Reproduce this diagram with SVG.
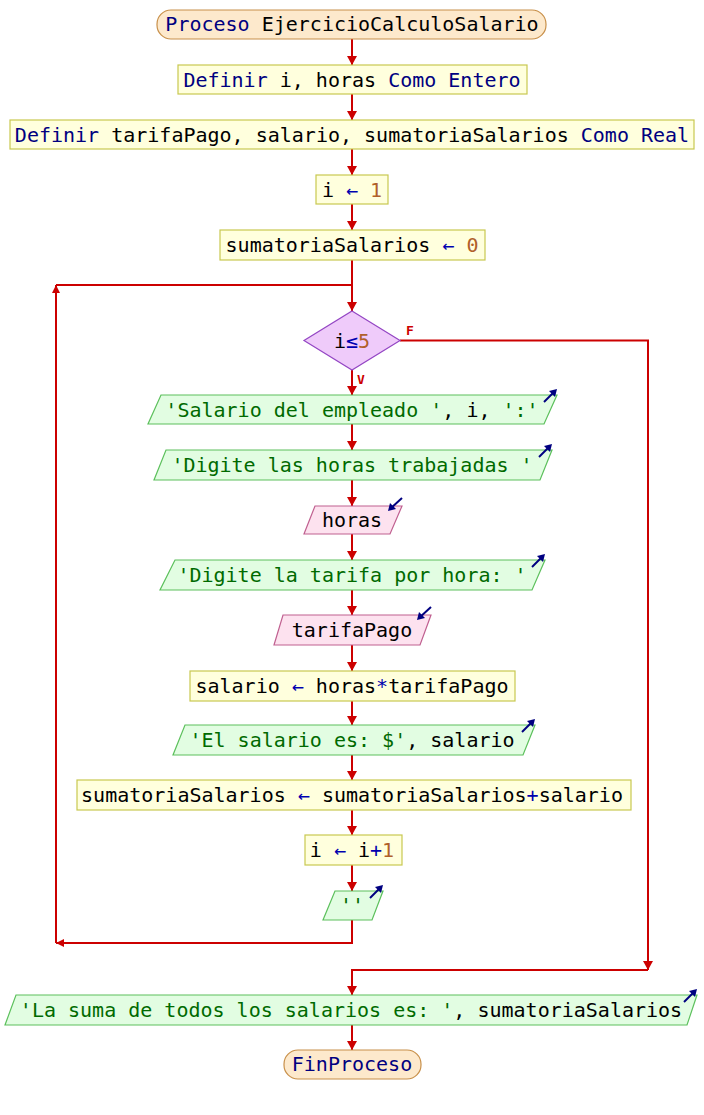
<svg xmlns="http://www.w3.org/2000/svg" width="704" height="1115" viewBox="0 0 704 1115">
  <style>
    text { font-family: "DejaVu Sans Mono", "Liberation Mono", monospace; font-size: 20px; fill: #000000; white-space: pre; text-anchor: middle; }
    .kw { fill: #000080; }
    .str { fill: #006a00; }
    .num { fill: #b0602a; }
    .op { fill: #0000b0; }
    .term { fill: #fde9cc; stroke: #c8904a; stroke-width: 1.2; }
    .proc { fill: #ffffdd; stroke: #c8c850; stroke-width: 1.2; }
    .dec { fill: #efcbfa; stroke: #9446c4; stroke-width: 1.2; }
    .out { fill: #e2fde2; stroke: #5cc05c; stroke-width: 1.2; }
    .in { fill: #fde2ef; stroke: #c06090; stroke-width: 1.2; }
    .flow { fill: none; stroke: #cc0000; stroke-width: 2; }
    .lbl { font-family: "DejaVu Sans Mono", monospace; font-size: 13px; font-weight: bold; fill: #cc0000; text-anchor: start; }
    .ico { stroke: #000080; stroke-width: 2; fill: none; }
    .icoh { fill: #000080; }
  </style>
  <defs>
    <marker id="ah" markerWidth="10" markerHeight="10" refX="9" refY="5" orient="auto" markerUnits="userSpaceOnUse">
      <path d="M0,0 L9,5 L0,10 Z" fill="#cc0000"/>
    </marker>
    <marker id="ahs" markerWidth="9" markerHeight="8" refX="8" refY="4" orient="auto" markerUnits="userSpaceOnUse">
      <path d="M0,0 L8,4 L0,8 Z" fill="#cc0000"/>
    </marker>
    <!-- small output marker: arrow pointing up-right, tip at origin -->
    <g id="icoOut">
      <path class="ico" d="M-13,13 L-2,2"/>
      <path class="icoh" d="M0,0 L-2,8 L-8,2 Z"/>
    </g>
    <!-- small input marker: arrow pointing down-left, tip at origin -->
    <g id="icoIn">
      <path class="ico" d="M14,-13 L2,-2"/>
      <path class="icoh" d="M0,0 L8,-2 L2,-8 Z"/>
    </g>
  </defs>

  <!-- connectors -->
  <g id="connectors">
    <path class="flow" d="M352,39 V65" marker-end="url(#ah)"/>
    <path class="flow" d="M352,94 V120" marker-end="url(#ah)"/>
    <path class="flow" d="M352,149 V175" marker-end="url(#ah)"/>
    <path class="flow" d="M352,204 V230" marker-end="url(#ah)"/>
    <path class="flow" d="M352,260 V311" marker-end="url(#ah)"/>
    <path class="flow" d="M400,340.5 H648 V970" marker-end="url(#ah)"/>
    <path class="flow" d="M648,970 H352 V995" marker-end="url(#ah)"/>
    <path class="flow" d="M352,370 V395" marker-end="url(#ah)"/>
    <path class="flow" d="M352,424 V450" marker-end="url(#ah)"/>
    <path class="flow" d="M352,480 V506" marker-end="url(#ah)"/>
    <path class="flow" d="M352,534 V560" marker-end="url(#ah)"/>
    <path class="flow" d="M352,590 V615" marker-end="url(#ah)"/>
    <path class="flow" d="M352,645 V671" marker-end="url(#ah)"/>
    <path class="flow" d="M352,701 V725" marker-end="url(#ah)"/>
    <path class="flow" d="M352,755 V780" marker-end="url(#ah)"/>
    <path class="flow" d="M352,810 V835" marker-end="url(#ah)"/>
    <path class="flow" d="M352,865 V891" marker-end="url(#ah)"/>
    <path class="flow" d="M352,920 V943 H56" marker-end="url(#ahs)"/>
    <path class="flow" d="M56,943 V285" marker-end="url(#ahs)"/>
    <path class="flow" d="M56,285 H352"/>
    <path class="flow" d="M352,1025 V1050" marker-end="url(#ah)"/>
    <text class="lbl" x="406" y="335">F</text>
    <text class="lbl" x="357" y="384">V</text>
  </g>

  <g id="start">
    <rect class="term" x="157" y="10" width="389" height="29" rx="14" ry="14"/>
    <text x="352" y="31"><tspan class="kw">Proceso</tspan> EjercicioCalculoSalario</text>
  </g>

  <g id="def1">
    <rect class="proc" x="178" y="65" width="349" height="29"/>
    <text x="352" y="86.5"><tspan class="kw">Definir</tspan> i, horas <tspan class="kw">Como Entero</tspan></text>
  </g>

  <g id="def2">
    <rect class="proc" x="10" y="120" width="684" height="29"/>
    <text x="352" y="141.5"><tspan class="kw">Definir</tspan> tarifaPago, salario, sumatoriaSalarios <tspan class="kw">Como Real</tspan></text>
  </g>

  <g id="asg-i">
    <rect class="proc" x="316" y="175" width="72" height="29"/>
    <text x="352" y="196.5">i <tspan class="op">←</tspan> <tspan class="num">1</tspan></text>
  </g>

  <g id="asg-suma0">
    <rect class="proc" x="220" y="230" width="265" height="30"/>
    <text x="352" y="252">sumatoriaSalarios <tspan class="op">←</tspan> <tspan class="num">0</tspan></text>
  </g>

  <g id="cond">
    <polygon class="dec" points="352,311 400,340.5 352,370 304,340.5"/>
    <text x="352" y="348">i<tspan class="op">≤</tspan><tspan class="num">5</tspan></text>
  </g>

  <g id="out-empleado">
    <polygon class="out" points="161,395 557,395 544,424 148,424"/>
    <text x="352" y="416.5"><tspan class="str">'Salario del empleado '</tspan>, i, <tspan class="str">':'</tspan></text>
    <use href="#icoOut" x="557" y="389"/>
  </g>

  <g id="out-horas">
    <polygon class="out" points="166,450 552,450 540,480 154,480"/>
    <text x="352" y="472"><tspan class="str">'Digite las horas trabajadas '</tspan></text>
    <use href="#icoOut" x="552" y="444"/>
  </g>

  <g id="in-horas">
    <polygon class="in" points="315,506 402,506 390,534 304,534"/>
    <text x="352" y="527">horas</text>
    <use href="#icoIn" x="388" y="511"/>
  </g>

  <g id="out-tarifa">
    <polygon class="out" points="175,560 545,560 532,590 160,590"/>
    <text x="352" y="582"><tspan class="str">'Digite la tarifa por hora: '</tspan></text>
    <use href="#icoOut" x="545" y="554"/>
  </g>

  <g id="in-tarifa">
    <polygon class="in" points="283,615 431,615 420,645 274,645"/>
    <text x="352" y="637">tarifaPago</text>
    <use href="#icoIn" x="417" y="620"/>
  </g>

  <g id="asg-salario">
    <rect class="proc" x="190" y="671" width="325" height="30"/>
    <text x="352" y="693">salario <tspan class="op">←</tspan> horas<tspan class="op">*</tspan>tarifaPago</text>
  </g>

  <g id="out-salario">
    <polygon class="out" points="185,725 535,725 523,755 173,755"/>
    <text x="352" y="747"><tspan class="str">'El salario es: $'</tspan>, salario</text>
    <use href="#icoOut" x="535" y="719"/>
  </g>

  <g id="asg-suma">
    <rect class="proc" x="77" y="780" width="554" height="30"/>
    <text x="352" y="802">sumatoriaSalarios <tspan class="op">←</tspan> sumatoriaSalarios<tspan class="op">+</tspan>salario</text>
  </g>

  <g id="asg-inc">
    <rect class="proc" x="305" y="835" width="97" height="30"/>
    <text x="352" y="857">i <tspan class="op">←</tspan> i<tspan class="op">+</tspan><tspan class="num">1</tspan></text>
  </g>

  <g id="out-blank">
    <polygon class="out" points="335,891 383,891 372,920 323,920"/>
    <text x="352" y="912"><tspan class="str">''</tspan></text>
    <use href="#icoOut" x="383" y="885"/>
  </g>

  <g id="out-total">
    <polygon class="out" points="16,995 697,995 687,1025 5,1025"/>
    <text x="351" y="1017"><tspan class="str">'La suma de todos los salarios es: '</tspan>, sumatoriaSalarios</text>
    <use href="#icoOut" x="697" y="989"/>
  </g>

  <g id="end">
    <rect class="term" x="284" y="1050" width="137" height="29" rx="14" ry="14"/>
    <text x="352" y="1071"><tspan class="kw">FinProceso</tspan></text>
  </g>
</svg>
